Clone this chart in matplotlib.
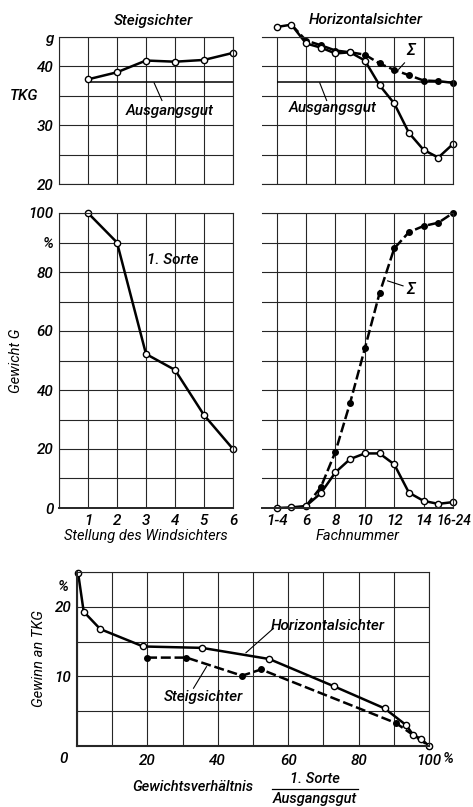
import numpy as np
import matplotlib
matplotlib.use("Agg")
import matplotlib.pyplot as plt

plt.rcParams['font.family'] = ['Roboto', 'DejaVu Sans']
plt.rcParams['font.style'] = 'italic'
plt.rcParams['font.weight'] = 'medium'

# Steigsichter: Stellung des Windsichters 1..6
stellung = [1, 2, 3, 4, 5, 6]
tkg_steig = [37.8, 39.0, 41.0, 40.8, 41.1, 42.3]
sorte1_steig = [100, 90, 52.2, 46.8, 31.5, 20.0]
tkg_ausgang = 37.3

# Horizontalsichter: Fachnummer 1-4, 5, 6, ..., 15, 16-24
fach_labels = ['1-4', '6', '8', '10', '12', '14', '16-24']
fach_pos = np.arange(13)
tkg_horiz = [46.7, 47.1, 43.9, 43.2, 42.2, 42.4, 41.0, 36.8, 33.7, 28.7, 25.8, 24.5, 26.8]
tkg_horiz_sum = [47.1, 44.4, 43.6, 42.7, 42.4, 42.0, 40.5, 39.4, 38.5, 37.6, 37.5, 37.2]   # ab Fach 5
gew_horiz = [0, 0.2, 0.7, 5.0, 12.1, 16.6, 18.5, 18.5, 14.8, 5.2, 2.4, 1.4, 2.0]
gew_horiz_sum = [0.7, 7.0, 19.1, 35.7, 54.1, 72.8, 88.0, 93.5, 95.6, 96.7, 100]    # ab Fach 6

# Gewinn an TKG über Gewichtsverhältnis
verh_horiz = [0.3, 1.9, 6.6, 18.8, 35.5, 54.6, 72.9, 87.4, 93.5, 95.5, 97.8, 100]
gewinn_horiz = [24.9, 19.3, 16.8, 14.3, 14.1, 12.5, 8.6, 5.4, 3.0, 1.6, 1.0, 0]
verh_steig = [19.9, 31.1, 46.9, 52.3, 90.6, 100]
gewinn_steig = [12.7, 12.7, 10.1, 11.0, 3.3, 0]

W, H = 473, 807
fig = plt.figure(figsize=(W / 100, H / 100), dpi=100)


def rect(x0, y0, x1, y1):
    return [x0 / W, 1 - y1 / H, (x1 - x0) / W, (y1 - y0) / H]


GRID = dict(color='0.15', linewidth=0.8)
LW = 1.8
open_m = dict(marker='o', ms=4.5, mfc='white', mec='black', mew=1.0)
fill_m = dict(marker='o', ms=4, mfc='black', mec='black')
FS = 11      # Zahlen und Kurvenbeschriftungen
FL = 10.5    # Achsentitel


def base(ax, xt, yt, left_spine=True):
    ax.set_xticks(xt)
    ax.set_yticks(yt)
    ax.grid(True, **GRID)
    ax.set_axisbelow(True)
    ax.tick_params(length=0, labelsize=FS, pad=4)
    for s in ax.spines.values():
        s.set_linewidth(0.8)
        s.set_color('0.15')
    ax.spines['left'].set_visible(left_spine)


# --- TKG, Steigsichter
ax1 = fig.add_axes(rect(59, 37, 233, 184))
ax1.set_xlim(0, 6)
ax1.set_ylim(20, 45)
base(ax1, range(7), np.arange(20, 46, 5))
ax1.set_xticklabels([])
ax1.set_yticklabels(['20', '', '30', '', '40', 'g'])
ax1.hlines(tkg_ausgang, 1, 6, color='black', lw=1.1)
ax1.plot(stellung, tkg_steig, color='black', lw=LW, clip_on=False, **open_m)
ax1.text(3.83, 32.5, 'Ausgangsgut', fontsize=FS, ha='center', va='center')
ax1.plot([3.55, 3.28], [34.2, 37.2], color='black', lw=0.8)
ax1.text(-1.2, 35, 'TKG', fontsize=FS, ha='center', va='center')

# --- TKG, Horizontalsichter
ax2 = fig.add_axes(rect(262, 37, 453, 184))
ax2.set_xlim(-1, 12)
ax2.set_ylim(20, 45)
base(ax2, range(0, 13, 2), np.arange(20, 46, 5), left_spine=False)
ax2.set_xticklabels([])
ax2.set_yticklabels([])
ax2.hlines(tkg_ausgang, 0, 12, color='black', lw=1.1)
ax2.plot(fach_pos[1:], tkg_horiz_sum, color='black', lw=LW, ls=(0, (4, 1.5)),
         markevery=range(1, 12), clip_on=False, **fill_m)
ax2.plot(fach_pos, tkg_horiz, color='black', lw=LW, clip_on=False, **open_m)
ax2.text(3.82, 32.9, 'Ausgangsgut', fontsize=FS, ha='center', va='center')
ax2.plot([3.4, 2.93], [34.2, 37.2], color='black', lw=0.8)
ax2.text(9.1, 42.7, 'Σ', fontsize=11.5, ha='center', va='center')
ax2.plot([8.7, 8.3], [40.6, 39.5], color='black', lw=0.8)

# --- Gewicht, Steigsichter
ax3 = fig.add_axes(rect(59, 213, 233, 508))
ax3.set_xlim(0, 6)
ax3.set_ylim(0, 100)
base(ax3, range(7), np.arange(0, 101, 10))
ax3.set_xticklabels([''] + [str(s) for s in stellung])
ax3.set_yticklabels(['0', '', '20', '', '40', '', '60', '', '80', '%', '100'])
ax3.spines['bottom'].set_linewidth(1.4)
ax3.plot(stellung, sorte1_steig, color='black', lw=LW, clip_on=False, **open_m)
ax3.text(3.93, 84, '1. Sorte', fontsize=FS, ha='center', va='center')
ax3.set_xlabel('Stellung des Windsichters', fontsize=FL, labelpad=1)
ax3.set_ylabel('Gewicht G', fontsize=FL, labelpad=4)

# --- Gewicht, Horizontalsichter
ax4 = fig.add_axes(rect(262, 213, 453, 508))
ax4.set_xlim(-1, 12)
ax4.set_ylim(0, 100)
base(ax4, range(0, 13, 2), np.arange(0, 101, 10), left_spine=False)
ax4.set_xticklabels(fach_labels[:-1] + [''])
ax4.set_yticklabels([])
ax4.spines['bottom'].set_linewidth(1.4)
# "16-24" steht etwas rechts vom letzten Gitterstrich
ax4.annotate(fach_labels[-1], xy=(12.05, 0), xycoords=('data', 'axes fraction'),
             xytext=(0, -4), textcoords='offset points', ha='center', va='top',
             fontsize=10, annotation_clip=False)
ax4.plot(fach_pos[2:], gew_horiz_sum, color='black', lw=LW, ls=(0, (4, 1.5)),
         markevery=range(1, 11), clip_on=False, **fill_m)
ax4.plot(fach_pos, gew_horiz, color='black', lw=LW, clip_on=False, **open_m)
ax4.text(9.1, 73.9, 'Σ', fontsize=11.5, ha='center', va='center')
ax4.plot([8.6, 7.55], [75.3, 77.0], color='black', lw=0.8)
ax4.set_xlabel('Fachnummer', fontsize=FL, labelpad=1)

# --- Gewinn an TKG
ax5 = fig.add_axes(rect(77, 572, 429, 746))
ax5.set_xlim(0, 100)
ax5.set_ylim(0, 25)
base(ax5, range(0, 101, 10), range(0, 26, 5))
ax5.set_xticklabels(['', '', '20', '', '40', '', '60', '', '80', '', '100'])
ax5.set_yticklabels(['', '', '10', '', '20', ''])
ax5.tick_params(axis='x', pad=6)
ax5.spines['left'].set_linewidth(1.5)
ax5.spines['bottom'].set_linewidth(1.5)
ax5.plot(verh_steig, gewinn_steig, color='black', lw=LW, ls=(0, (4, 1.5)),
         clip_on=False, **fill_m)
ax5.plot(verh_horiz, gewinn_horiz, color='black', lw=LW, clip_on=False, **open_m)
ax5.text(71.1, 17.3, 'Horizontalsichter', fontsize=FS, ha='center', va='center')
ax5.plot([55.8, 48.0], [16.9, 13.4], color='black', lw=0.8)
ax5.text(35.9, 7.0, 'Steigsichter', fontsize=FS, ha='center', va='center')
ax5.plot([36.8, 33.1], [11.4, 8.3], color='black', lw=0.8)
ax5.set_ylabel('Gewinn an TKG', fontsize=FL, labelpad=6)

# Beschriftungen in Pixelkoordinaten
def ftext(x, y, s, **kw):
    fig.text(x / W, 1 - y / H, s, ha='center', va='center', **kw)


ftext(153, 21, 'Steigsichter', fontsize=11)
ftext(366, 20, 'Horizontalsichter', fontsize=11)
ftext(64, 759, '0', fontsize=FS)
ftext(63, 587, '%', fontsize=FS)
ftext(448, 759, '%', fontsize=FS)
ftext(193, 787, 'Gewichtsverhältnis', fontsize=FL)
ftext(315, 779, '1. Sorte', fontsize=FL)
ftext(315, 799, 'Ausgangsgut', fontsize=FL)
fig.add_artist(plt.Line2D([272 / W, 358 / W], [1 - 789 / H, 1 - 789 / H],
                          color='black', lw=0.9))

fig.savefig('out.png', dpi=100, facecolor='white')
